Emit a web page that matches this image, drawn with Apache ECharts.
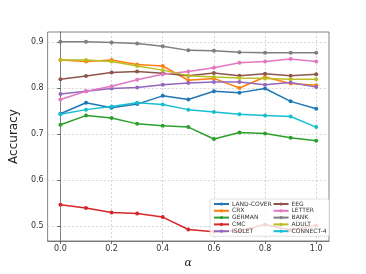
<!DOCTYPE html>
<html><head><meta charset="utf-8">
<script src="https://cdn.jsdelivr.net/npm/echarts@6/dist/echarts.min.js"></script>
<style>html,body{margin:0;padding:0;background:#fff}#c{width:366px;height:274px}</style>
</head><body><div id="c"></div>
<script>
const alphas = [0.0,0.1,0.2,0.3,0.4,0.5,0.6,0.7,0.8,0.9,1.0];
const xTicks = [0.0,0.2,0.4,0.6,0.8,1.0];
const yTicks = [0.5,0.6,0.7,0.8,0.9];
const seriesNames = ['LAND-COVER','CRX','GERMAN','CMC','ISOLET','EEG','LETTER','BANK','ADULT','CONNECT-4'];
const colors = ['#1f77b4','#ff7f0e','#2ca02c','#d62728','#9467bd','#8c564b','#e377c2','#7f7f7f','#bcbd22','#17becf'];
const landCover = [0.744,0.768,0.757,0.765,0.783,0.775,0.793,0.790,0.799,0.771,0.755];
const crx       = [0.861,0.858,0.861,0.851,0.848,0.817,0.821,0.800,0.824,0.810,0.806];
const german    = [0.720,0.740,0.735,0.722,0.718,0.715,0.689,0.703,0.701,0.692,0.685];
const cmc       = [0.546,0.539,0.529,0.527,0.519,0.492,0.487,0.489,0.503,0.491,0.501];
const isolet    = [0.787,0.793,0.799,0.801,0.807,0.811,0.813,0.813,0.807,0.812,0.802];
const eeg       = [0.819,0.826,0.834,0.836,0.832,0.827,0.833,0.827,0.831,0.827,0.830];
const letter    = [0.775,0.793,0.804,0.818,0.830,0.836,0.844,0.855,0.858,0.863,0.858];
const bank      = [0.901,0.901,0.899,0.897,0.891,0.882,0.881,0.878,0.877,0.877,0.877];
const adult     = [0.861,0.861,0.858,0.848,0.839,0.827,0.824,0.822,0.821,0.819,0.819];
const connect4  = [0.743,0.753,0.760,0.768,0.764,0.753,0.748,0.743,0.740,0.738,0.715];
const allValues = [landCover,crx,german,cmc,isolet,eeg,letter,bank,adult,connect4];

const series = seriesNames.map((n,i)=>({
  name:n, type:'line', data: alphas.map((a,j)=>[a, allValues[i][j]]),
  symbol:'circle', symbolSize:4, showSymbol:true,
  lineStyle:{width:1.5,color:colors[i]}, itemStyle:{color:colors[i]},
  z: 2
}));

const chart = echarts.init(document.getElementById('c'), null, {renderer:'canvas'});
chart.setOption({
  animation:false,
  backgroundColor:'#fff',
  grid:{left:45,right:37,top:32,bottom:30,show:true,borderColor:'#666',borderWidth:0.8,backgroundColor:'transparent'},
  xAxis:{type:'value',min:-0.05,max:1.05,
    name:'α',nameLocation:'middle',nameGap:17,
    nameTextStyle:{fontFamily:'DejaVu Serif',fontStyle:'italic',fontSize:11,color:'#222'},
    axisLine:{show:true,lineStyle:{color:'#666',width:0.8}},
    axisTick:{show:true,customValues:xTicks,length:3,lineStyle:{color:'#666'}},
    axisLabel:{customValues:xTicks,formatter:v=>v.toFixed(1),fontFamily:'DejaVu Sans',fontSize:8,color:'#333',margin:4},
    splitLine:{show:true,lineStyle:{type:[2,2],color:'#bbb',width:0.6}}
  },
  yAxis:{type:'value',min:0.467,max:0.922,
    name:'Accuracy',nameLocation:'middle',nameGap:22,nameRotate:90,
    nameTextStyle:{fontFamily:'DejaVu Sans',fontSize:12,color:'#222'},
    axisLine:{show:true,lineStyle:{color:'#666',width:0.8}},
    axisTick:{show:true,customValues:yTicks,length:3,lineStyle:{color:'#666'}},
    axisLabel:{customValues:yTicks,formatter:v=>v.toFixed(1),fontFamily:'DejaVu Sans',fontSize:8,color:'#333',margin:4},
    splitLine:{show:true,lineStyle:{type:[2,2],color:'#bbb',width:0.6}}
  },
  legend:{
    data:seriesNames, orient:'vertical', left:210, top:199, height:38, width:120,
    itemWidth:15, itemHeight:4, itemGap:0.8,
    textStyle:{fontFamily:'DejaVu Sans',fontSize:6,color:'#333',padding:[0,0,0,-2]},
    backgroundColor:'rgba(255,255,255,0.8)', borderColor:'#ccc', borderWidth:0.6, borderRadius:2,
    padding:[2,3,2,3]
  },
  series: series
});
</script></body></html>
